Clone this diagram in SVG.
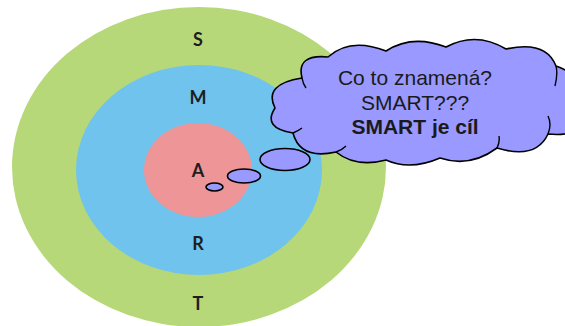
<svg xmlns="http://www.w3.org/2000/svg" width="565" height="326" viewBox="0 0 565 326">
<style>
.lbl{font-family:Lato,"DejaVu Sans",sans-serif;font-weight:bold;font-size:18px;fill:#1e1e1e;text-anchor:middle}
.bub{fill:#9999FF;stroke:#000;stroke-width:1.6}
.ct{font-family:"Liberation Sans",Arial,sans-serif;font-size:21px;fill:#1a1a1a;text-anchor:middle}
</style>
<rect width="565" height="326" fill="#fff"/>
<g id="ring-S"><ellipse cx="199" cy="167" rx="187" ry="160" fill="#B6D878"/><text class="lbl" x="198" y="46">S</text><text class="lbl" x="198" y="310">T</text></g>
<g id="ring-M"><ellipse cx="199" cy="170" rx="123" ry="105" fill="#70C3EC"/><text class="lbl" x="198" y="104">M</text><text class="lbl" x="198" y="250">R</text></g>
<g id="ring-A"><ellipse cx="198" cy="170" rx="54" ry="47" fill="#EE9598"/><text class="lbl" x="198" y="177">A</text></g>
<g id="thought">
<ellipse class="bub" cx="214.5" cy="187" rx="8.5" ry="4"/>
<ellipse class="bub" cx="244" cy="176" rx="16.5" ry="7"/>
<ellipse class="bub" cx="285" cy="159.5" rx="25" ry="11"/>
<path class="bub" d="M302,78 Q296,54 328,57 Q350,37 386,51 Q412,34 446,47 Q476,31 506,49 Q546,40 556,66 Q590,78 572,106 Q592,138 548,134 Q536,160 497,148 Q470,168 440,158 Q410,171 386,160 Q356,168 336,152 Q300,160 293,133 Q262,128 275,108 Q263,84 302,78 Z"/>
<path d="M302,78 Q303,84 306,88 M556,66 Q558,74 555,86 M548,134 Q552,124 548,116 M497,148 Q500,142 499,136 M336,152 Q342,150 346,146 M293,133 Q298,131 302,128" fill="none" stroke="#000" stroke-width="1.4"/>
<text class="ct" x="415" y="85">Co to znamená?</text>
<text class="ct" x="415" y="110">SMART???</text>
<text class="ct" x="415" y="134" font-weight="bold">SMART je cíl</text>
</g>
</svg>
